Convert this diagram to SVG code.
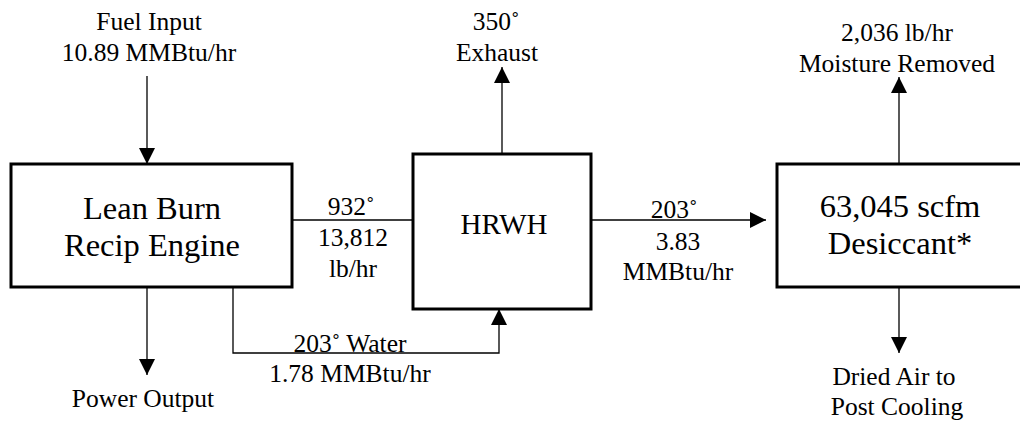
<svg xmlns="http://www.w3.org/2000/svg" width="1020" height="421" viewBox="0 0 1020 421">
<style>
.box{fill:#fff;stroke:#000;stroke-width:3}
.c{fill:none;stroke:#000;stroke-width:1.3}
text{fill:#000;text-anchor:middle}
.l{font-size:25.5px}
.big{font-size:32.5px}
.mid{font-size:29px}
</style>
<defs>
<marker id="ah" markerUnits="userSpaceOnUse" markerWidth="16" markerHeight="16" viewBox="0 0 14 14" refX="14" refY="7" orient="auto">
<path d="M0,0 L14,7 L0,14 Z" fill="#000"/>
</marker>
</defs>
<rect width="1020" height="421" fill="#fff"/>
<g id="connectors">
<line class="c" x1="147" y1="76" x2="147" y2="164" marker-end="url(#ah)"/>
<line class="c" x1="147" y1="287" x2="147" y2="375" marker-end="url(#ah)"/>
<line class="c" x1="292" y1="220" x2="413" y2="220"/>
<line class="c" x1="502" y1="154" x2="502" y2="67" marker-end="url(#ah)"/>
<path class="c" d="M233,287 V353 H499 V309" marker-end="url(#ah)"/>
<line class="c" x1="591" y1="220" x2="766" y2="220" marker-end="url(#ah)"/>
<line class="c" x1="899" y1="164" x2="899" y2="77" marker-end="url(#ah)"/>
<line class="c" x1="899" y1="287" x2="899" y2="353" marker-end="url(#ah)"/>
</g>
<g font-family="Liberation Serif, Times New Roman, DejaVu Serif, serif">
<g id="engine">
<rect class="box" x="11" y="164" width="281" height="123"/>
<text class="big" x="152" y="219">Lean Burn</text>
<text class="big" x="152" y="256">Recip Engine</text>
</g>
<g id="hrwh">
<rect class="box" x="413" y="154" width="178" height="155"/>
<text class="mid" x="504" y="234">HRWH</text>
</g>
<g id="desiccant">
<rect class="box" x="777" y="164" width="260" height="123"/>
<text class="big" x="900" y="217">63,045 scfm</text>
<text class="big" x="900" y="254">Desiccant*</text>
</g>
<g id="labels">
<text class="l" x="149" y="30">Fuel Input</text>
<text class="l" x="149" y="61">10.89 MMBtu/hr</text>
<text class="l" x="143" y="407">Power Output</text>
<text class="l" x="351" y="215">932˚</text>
<text class="l" x="353" y="246">13,812</text>
<text class="l" x="353" y="277">lb/hr</text>
<text class="l" x="496" y="30">350˚</text>
<text class="l" x="497" y="61">Exhaust</text>
<text class="l" x="350" y="352">203˚ Water</text>
<text class="l" x="350" y="382">1.78 MMBtu/hr</text>
<text class="l" x="674" y="218">203˚</text>
<text class="l" x="678" y="250">3.83</text>
<text class="l" x="678" y="280">MMBtu/hr</text>
<text class="l" x="897" y="41">2,036 lb/hr</text>
<text class="l" x="897" y="72">Moisture Removed</text>
<text class="l" x="894" y="385">Dried Air to</text>
<text class="l" x="897" y="415">Post Cooling</text>
</g>
</g>
</svg>
